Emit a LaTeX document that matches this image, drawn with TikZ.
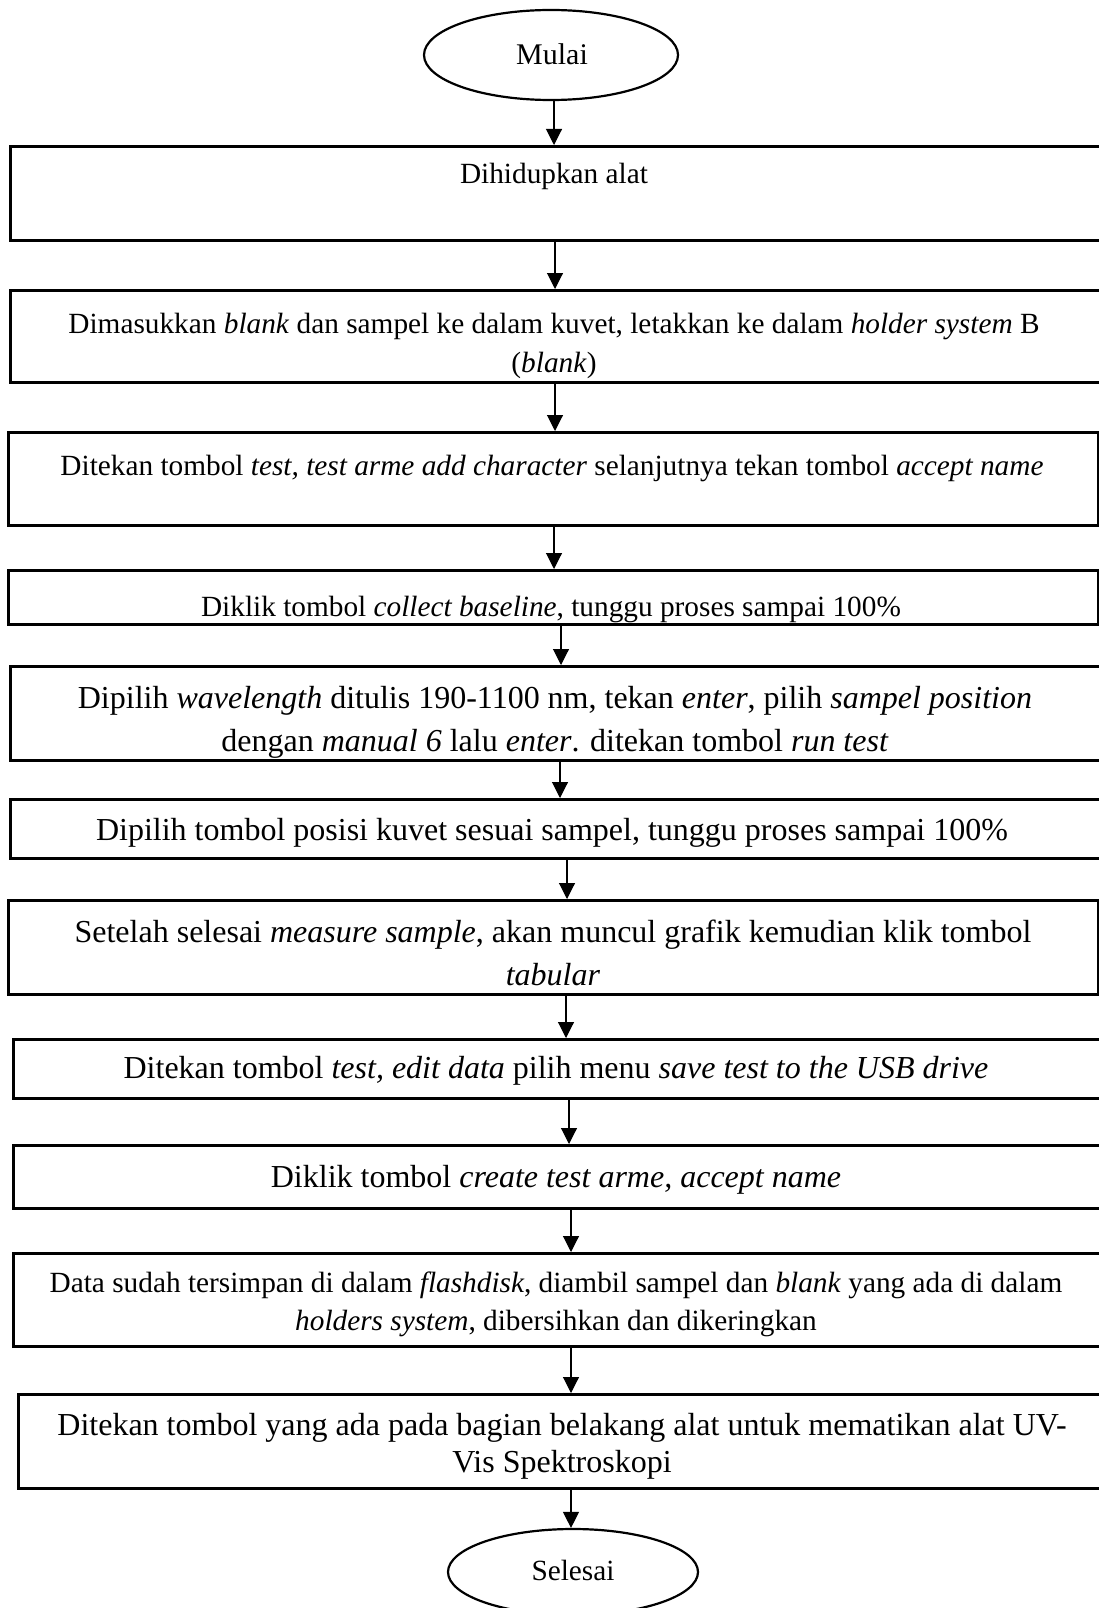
\documentclass[tikz,border=0pt]{standalone}
\usepackage{fontspec}
\setmainfont{Liberation Serif}
\usetikzlibrary{shapes.geometric,arrows.meta}

\tikzset{
  procbox/.style={draw, line width=2.8pt, inner sep=0pt, anchor=north west},
  term/.style={ellipse, draw, line width=2.2pt, inner sep=0pt},
  flow/.style={-{Triangle[width=16pt,length=16pt]}, line width=1.1pt},
  smalltxt/.style={font=\fontsize{29.3}{39}\selectfont, inner sep=0pt, anchor=base, align=center},
  bigtxt/.style={font=\fontsize{32}{43}\selectfont, inner sep=0pt, anchor=base, align=center},
}

\begin{document}
\begin{tikzpicture}[x=1pt, y=-1pt]
  \useasboundingbox (0,0) rectangle (1099,1608);
  \clip (0,0) rectangle (1099,1608);

  % terminals
  \node[term, minimum width=254pt, minimum height=90pt] (start) at (551,55) {};
  \node[font=\fontsize{30}{36}\selectfont, inner sep=0pt, anchor=base] (tstart) at (552,65) {Mulai};
  \node[term, minimum width=250pt, minimum height=86pt] (stop) at (573,1572) {};
  \node[font=\fontsize{29.3}{36}\selectfont, inner sep=0pt, anchor=base] (tstop) at (573,1580) {Selesai};

  % process boxes (some run past the right edge of the page)
  \node[procbox, minimum width=1101pt, minimum height=94pt] (b1) at (9,145) {};
  \node[procbox, minimum width=1101pt, minimum height=92pt] (b2) at (9,289) {};
  \node[procbox, minimum width=1090pt, minimum height=93pt] (b3) at (7,431) {};
  \node[procbox, minimum width=1090pt, minimum height=54pt] (b4) at (7,569) {};
  \node[procbox, minimum width=1101pt, minimum height=94pt] (b5) at (9,665) {};
  \node[procbox, minimum width=1101pt, minimum height=59pt] (b6) at (9,798) {};
  \node[procbox, minimum width=1090pt, minimum height=94pt] (b7) at (7,899) {};
  \node[procbox, minimum width=1098pt, minimum height=59pt] (b8) at (12,1038) {};
  \node[procbox, minimum width=1098pt, minimum height=63pt] (b9) at (12,1144) {};
  \node[procbox, minimum width=1098pt, minimum height=93pt] (b10) at (12,1252) {};
  \node[procbox, minimum width=1093pt, minimum height=94pt] (b11) at (17,1393) {};

  % box texts (multi-line texts are placed by the baseline of their last line)
  \node[smalltxt] (t1) at (554,184) {Dihidupkan alat};
  \node[smalltxt] (t2) at (554,372) {Dimasukkan \textit{blank} dan sampel ke dalam kuvet, letakkan ke dalam \textit{holder system} B\\(\textit{blank})};
  \node[smalltxt] (t3) at (552,475) {Ditekan tombol \textit{test, test arme add character} selanjutnya tekan tombol \textit{accept name}};
  \begin{scope}
    \clip (b4.north west) rectangle (b4.south east);
    \node[smalltxt] (t4) at (551,616) {Diklik tombol \textit{collect baseline}, tunggu proses sampai 100\%};
  \end{scope}
  \begin{scope}
    \clip (b5.north west) rectangle (b5.south east);
    \node[bigtxt] (t5) at (555,751) {Dipilih \textit{wavelength} ditulis 190-1100 nm, tekan \textit{enter}, pilih \textit{sampel position}\\dengan \textit{manual 6} lalu \textit{enter}. ditekan tombol \textit{run test}};
  \end{scope}
  \node[bigtxt] (t6) at (552,840) {Dipilih tombol posisi kuvet sesuai sampel, tunggu proses sampai 100\%};
  \node[bigtxt] (t7) at (553,985) {Setelah selesai \textit{measure sample}, akan muncul grafik kemudian klik tombol\\\textit{tabular}};
  \node[bigtxt] (t8) at (556,1078) {Ditekan tombol \textit{test, edit data} pilih menu \textit{save test to the USB drive}};
  \node[bigtxt] (t9) at (556,1187) {Diklik tombol \textit{create test arme, accept name}};
  \node[smalltxt, font=\fontsize{29.3}{38}\selectfont] (t10) at (556,1330) {Data sudah tersimpan di dalam \textit{flashdisk}, diambil sampel dan \textit{blank} yang ada di dalam\\\textit{holders system}, dibersihkan dan dikeringkan};
  \node[bigtxt, font=\fontsize{32}{37}\selectfont] (t11) at (562,1472) {Ditekan tombol yang ada pada bagian belakang alat untuk mematikan alat UV-\\Vis Spektroskopi};

  % connectors
  \draw[flow] ([xshift=3pt]start.south) -- ([xshift=545pt]b1.north west);
  \draw[flow] ([xshift=546pt]b1.south west) -- ([xshift=546pt]b2.north west);
  \draw[flow] ([xshift=546pt]b2.south west) -- ([xshift=548pt]b3.north west);
  \draw[flow] ([xshift=547pt]b3.south west) -- ([xshift=547pt]b4.north west);
  \draw[flow] ([xshift=554pt]b4.south west) -- ([xshift=552pt]b5.north west);
  \draw[flow] ([xshift=551pt]b5.south west) -- ([xshift=551pt]b6.north west);
  \draw[flow] ([xshift=558pt]b6.south west) -- ([xshift=560pt]b7.north west);
  \draw[flow] ([xshift=559pt]b7.south west) -- ([xshift=554pt]b8.north west);
  \draw[flow] ([xshift=557pt]b8.south west) -- ([xshift=557pt]b9.north west);
  \draw[flow] ([xshift=559pt]b9.south west) -- ([xshift=559pt]b10.north west);
  \draw[flow] ([xshift=559pt]b10.south west) -- ([xshift=554pt]b11.north west);
  \draw[flow] ([xshift=554pt]b11.south west) -- ([xshift=-2pt]stop.north);
\end{tikzpicture}
\end{document}
